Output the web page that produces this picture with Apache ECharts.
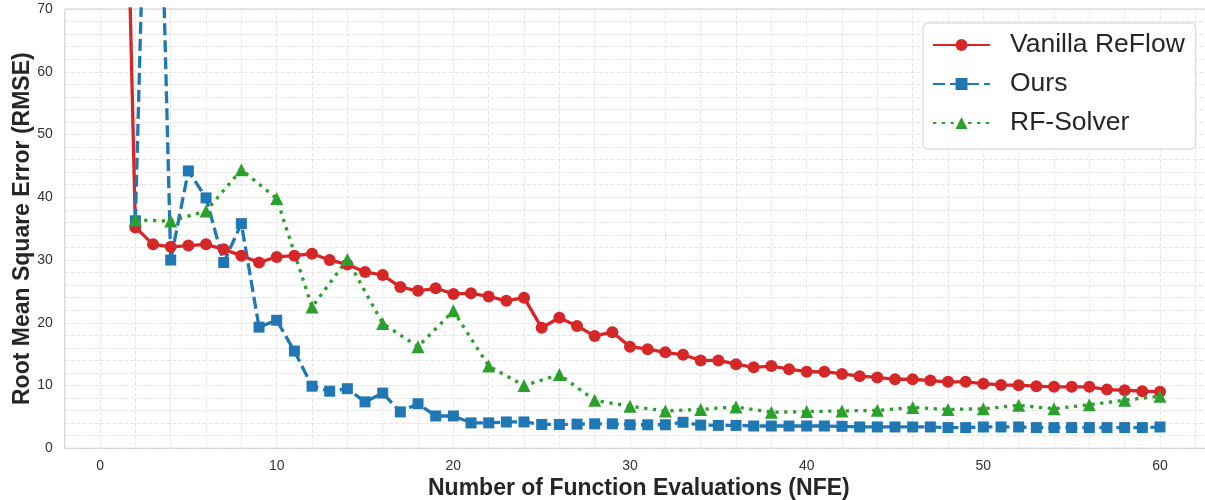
<!DOCTYPE html>
<html>
<head>
<meta charset="utf-8">
<script src="https://cdn.jsdelivr.net/npm/echarts@6/dist/echarts.min.js"></script>
<style>html,body{margin:0;padding:0;background:#fff}#c{width:1205px;height:500px}</style>
</head>
<body>
<div id="c"></div>
<script>
// NFE positions
const nfeRed = [1,2,3,4,5,6,7,8,9,10,11,12,13,14,15,16,17,18,19,20,21,22,23,24,25,26,27,28,29,30,31,32,33,34,35,36,37,38,39,40,41,42,43,44,45,46,47,48,49,50,51,52,53,54,55,56,57,58,59,60];
const vanillaReflow = [155,35.2,32.5,32.1,32.3,32.5,31.7,30.7,29.6,30.5,30.7,31.0,30.0,29.3,28.1,27.6,25.7,25.1,25.5,24.6,24.7,24.2,23.5,24.0,19.2,20.8,19.5,17.9,18.5,16.2,15.8,15.3,14.9,14.0,14.0,13.4,12.9,13.1,12.6,12.2,12.2,11.85,11.5,11.3,11.0,11.0,10.8,10.6,10.6,10.3,10.1,10.05,9.9,9.8,9.8,9.8,9.35,9.25,9.1,9.0];
const nfeOurs = [2,3,4,5,6,7,8,9,10,11,12,13,14,15,16,17,18,19,20,21,22,23,24,25,26,27,28,29,30,31,32,33,34,35,36,37,38,39,40,41,42,43,44,45,46,47,48,49,50,51,52,53,54,55,56,57,58,59,60];
const ours = [36.25,140,30.0,44.2,39.9,29.6,35.8,19.3,20.4,15.5,9.9,9.1,9.5,7.4,8.8,5.8,7.1,5.15,5.15,4.05,4.05,4.2,4.2,3.8,3.8,3.85,3.9,3.9,3.75,3.75,3.75,4.15,3.7,3.65,3.65,3.55,3.55,3.55,3.55,3.55,3.5,3.4,3.4,3.4,3.4,3.4,3.3,3.3,3.4,3.4,3.4,3.3,3.3,3.3,3.3,3.3,3.3,3.3,3.4];
const nfeSolver = [2,4,6,8,10,12,14,16,18,20,22,24,26,28,30,32,34,36,38,40,42,44,46,48,50,52,54,56,58,60];
const rfSolver = [36.4,36.2,37.8,44.4,39.8,22.5,30.1,19.9,16.2,21.9,13.1,10.0,11.75,7.65,6.7,5.95,6.2,6.6,5.75,5.85,5.95,6.05,6.5,6.2,6.3,6.85,6.3,6.95,7.65,8.3];
const xTickLabels = [0,10,20,30,40,50,60];
const yTickLabels = [0,10,20,30,40,50,60,70];

const zip = (xs, ys) => xs.map((x, i) => [x, ys[i]]);
const FONT = "'Liberation Sans', Arial, sans-serif";
const gridLine = {show: true, lineStyle: {color: '#e0e0e0', width: 0.8, type: [4, 2]}};

const chart = echarts.init(document.getElementById('c'), null, {renderer: 'canvas'});
chart.setOption({
  animation: false,
  backgroundColor: '#ffffff',
  grid: {left: 64.7, right: -8, top: 9, bottom: 51.7, show: true, borderColor: '#cfcfcf', borderWidth: 1.25,
         backgroundColor: 'transparent', containLabel: false, outerBoundsMode: 'none'},
  xAxis: {
    type: 'value', min: -2, max: 63, interval: 2,
    axisLine: {show: false}, axisTick: {show: false},
    splitLine: gridLine,
    axisLabel: {margin: 11, color: '#333', fontSize: 14, fontFamily: FONT,
      formatter: v => xTickLabels.includes(v) ? String(v) : ''},
    name: 'Number of Function Evaluations (NFE)', nameLocation: 'middle', nameGap: 29, nameMoveOverlap: false,
    nameTextStyle: {fontSize: 23, fontWeight: 'bold', color: '#262626', fontFamily: FONT}
  },
  yAxis: {
    type: 'value', min: 0, max: 70, interval: 2,
    axisLine: {show: false}, axisTick: {show: false},
    splitLine: gridLine,
    axisLabel: {margin: 12, color: '#333', fontSize: 14, fontFamily: FONT,
      formatter: v => yTickLabels.includes(v) ? String(v) : ''},
    name: 'Root Mean Square Error (RMSE)', nameLocation: 'middle', nameGap: 31, nameMoveOverlap: false,
    nameTextStyle: {fontSize: 23, fontWeight: 'bold', color: '#262626', fontFamily: FONT}
  },
  legend: {
    left: 923, top: 23, orient: 'vertical',
    itemWidth: 57, itemHeight: 15, itemGap: 9,
    padding: [7, 11, 11, 9],
    backgroundColor: 'rgba(255,255,255,0.85)', borderColor: '#d0d0d0', borderWidth: 1, borderRadius: 5,
    textStyle: {fontSize: 26.5, color: '#262626', fontFamily: FONT, padding: [0, 0, 0, 15], lineHeight: 30},
    data: ['Vanilla ReFlow', 'Ours', 'RF-Solver']
  },
  series: [
    {name: 'Vanilla ReFlow', type: 'line', data: zip(nfeRed, vanillaReflow), clip: true,
     symbol: 'circle', symbolSize: 12, showAllSymbol: true,
     lineStyle: {color: '#d62728', width: 3.3}, itemStyle: {color: '#d62728'}},
    {name: 'Ours', type: 'line', data: zip(nfeOurs, ours), clip: true,
     symbol: 'rect', symbolSize: 11, showAllSymbol: true,
     lineStyle: {color: '#1f77b4', width: 3.3, type: [12, 5]}, itemStyle: {color: '#1f77b4'}},
    {name: 'RF-Solver', type: 'line', data: zip(nfeSolver, rfSolver), clip: true,
     symbol: 'triangle', symbolSize: 13, showAllSymbol: true,
     lineStyle: {color: '#2ca02c', width: 3.3, type: [3.3, 5.5]}, itemStyle: {color: '#2ca02c'}}
  ]
});
</script>
</body>
</html>
